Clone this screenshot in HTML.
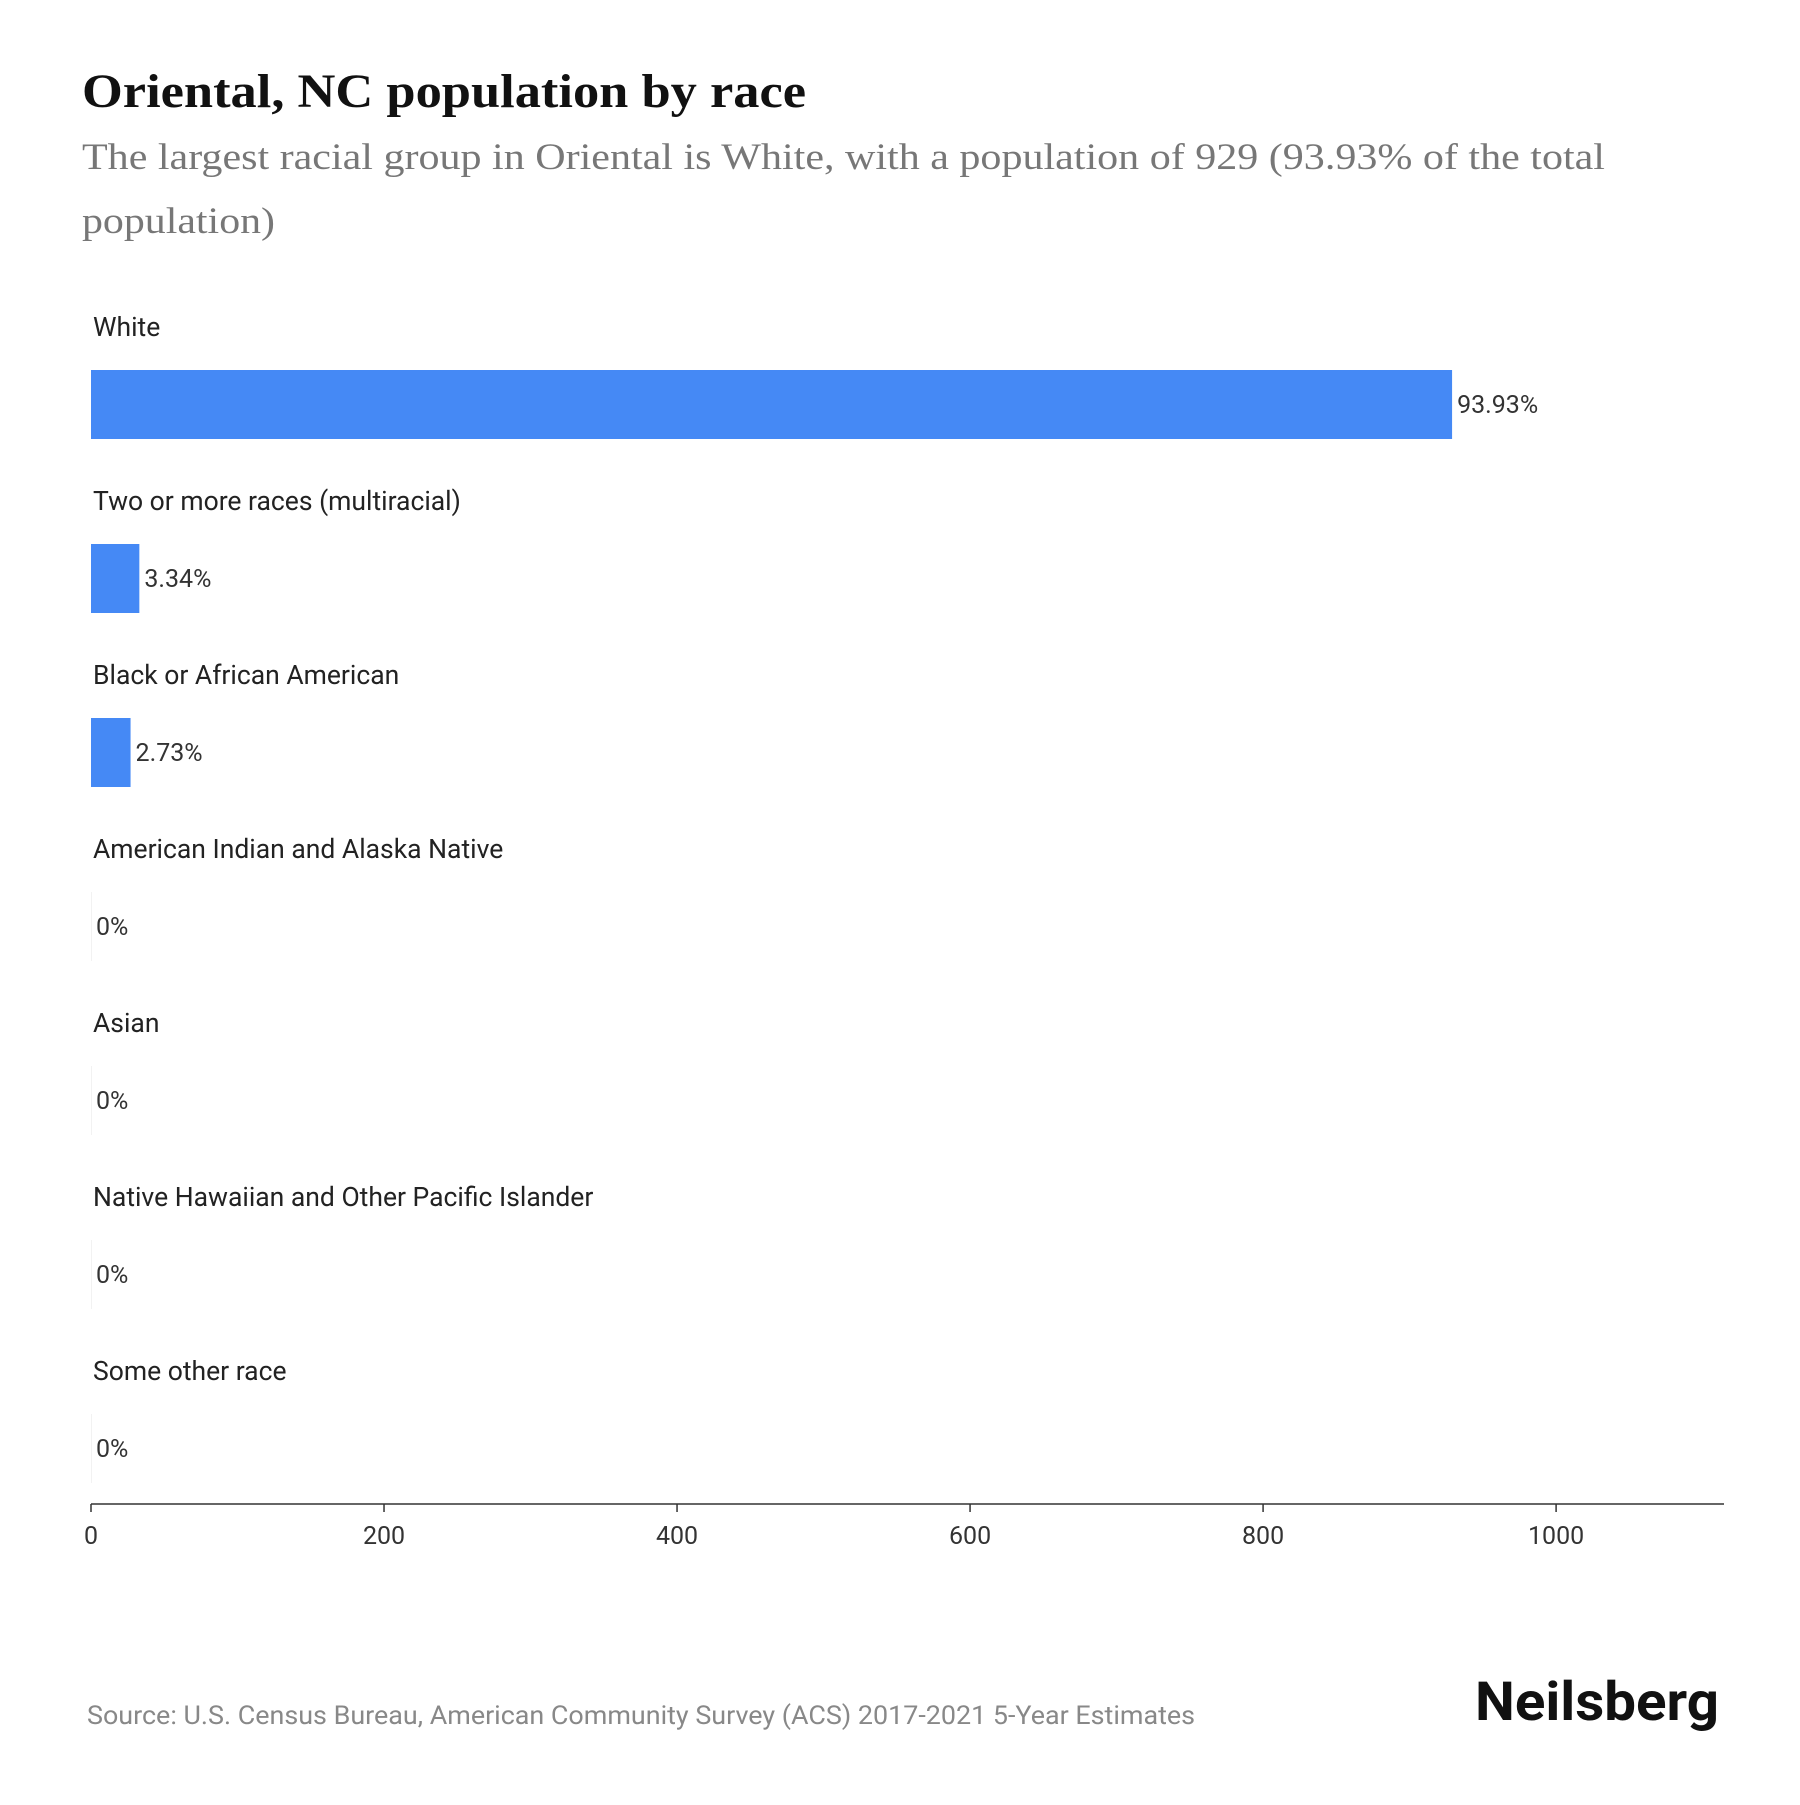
<!DOCTYPE html>
<html><head><meta charset="utf-8">
<style>
html,body{margin:0;padding:0;background:#fff;}
body{width:1800px;height:1800px;position:relative;overflow:hidden;}
svg text{font-family:"Roboto","Liberation Sans",sans-serif;}
</style></head>
<body>
<svg width="1800" height="1800" viewBox="0 0 1800 1800">
<text x="82" y="107" font-weight="bold" font-size="48" fill="#111" textLength="724" lengthAdjust="spacingAndGlyphs" style="font-family:'Liberation Serif',serif">Oriental, NC population by race</text>
<text x="82" y="169" font-size="37" fill="#777" textLength="1523" lengthAdjust="spacingAndGlyphs" style="font-family:'Liberation Serif',serif">The largest racial group in Oriental is White, with a population of 929 (93.93% of the total</text>
<text x="82" y="233" font-size="37" fill="#777" textLength="193" lengthAdjust="spacingAndGlyphs" style="font-family:'Liberation Serif',serif">population)</text>
<g id="plot"></g>
<text x="87" y="1724" font-size="26" fill="#888" textLength="1108" lengthAdjust="spacingAndGlyphs">Source: U.S. Census Bureau, American Community Survey (ACS) 2017-2021 5-Year Estimates</text>
<text x="1475" y="1720" font-size="54" font-weight="bold" fill="#111" textLength="244" lengthAdjust="spacingAndGlyphs">Neilsberg</text>
</svg>
<script>
const categories=["White","Two or more races (multiracial)","Black or African American","American Indian and Alaska Native","Asian","Native Hawaiian and Other Pacific Islander","Some other race"];
const values=[929,33,27,0,0,0,0];
const percentLabels=["93.93%","3.34%","2.73%","0%","0%","0%","0%"];
const ticks=[0,200,400,600,800,1000];
const NS="http://www.w3.org/2000/svg";
const g=document.getElementById('plot');
const x0=91,ux=1.4651;
function xs(v){return x0+v*ux;}
function yRow(i){return 327+i*174;}
function mk(t,a,txt){const e=document.createElementNS(NS,t);for(const k in a)e.setAttribute(k,a[k]);if(txt!==undefined)e.textContent=txt;g.appendChild(e);return e;}
categories.forEach((c,i)=>{
  const y=yRow(i);
  const l=mk('text',{x:93,y:y+9,'font-size':26.5,fill:'#222'},c);
  
  
  const w=xs(values[i])-x0;
  const r=mk('rect',{x:x0,y:y+43,width:Math.max(w,1),height:69,fill:values[i]>0?'#4589f5':'#f2f2f2'});
  
  
  const v=mk('text',{x:x0+w+5,y:y+86,'font-size':25,fill:'#333'},percentLabels[i]);
  
  
});
const ax=mk('line',{x1:x0,x2:1724,y1:1504,y2:1504,stroke:'#333','stroke-width':1.5});


ticks.forEach(t=>{
  const tk=mk('line',{x1:xs(t),x2:xs(t),y1:1504,y2:1512,stroke:'#333','stroke-width':1.5});
  
  
  const tl=mk('text',{x:xs(t),y:1544,'font-size':25,fill:'#333','text-anchor':'middle'},String(t));
  
  
});
</script>
</body></html>
